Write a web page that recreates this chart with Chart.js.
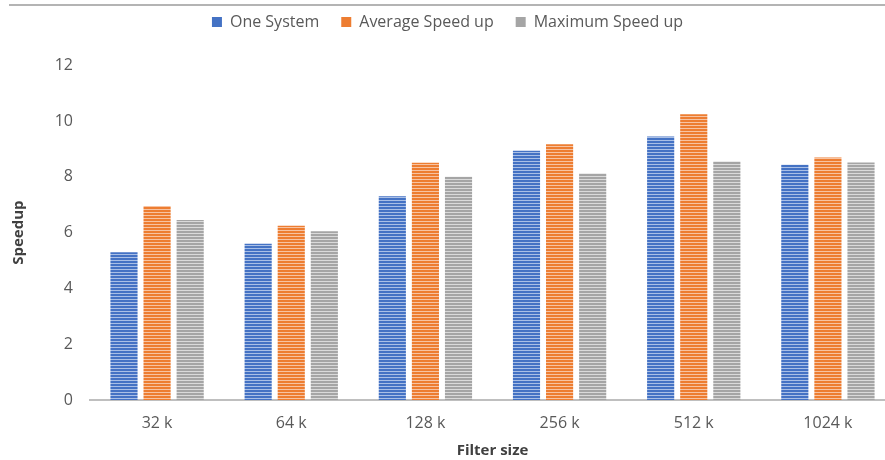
<!DOCTYPE html>
<html>
<head>
<meta charset="utf-8">
<script src="https://cdn.jsdelivr.net/npm/chart.js@4/dist/chart.umd.min.js"></script>
<style>
  html, body { margin: 0; padding: 0; overflow: hidden; background: #ffffff; width: 885px; height: 460px; }
  #c { position: absolute; left: 0; top: 0; }
</style>
</head>
<body>
<canvas id="c" width="895" height="460"></canvas>
<script>
const categories = ['32 k', '64 k', '128 k', '256 k', '512 k', '1024 k'];
const seriesNames = ['One System', 'Average Speed up', 'Maximum Speed up'];
const oneSystem = [5.3, 5.6, 7.3, 8.93, 9.44, 8.43];
const averageSpeedup = [6.95, 6.25, 8.5, 9.17, 10.24, 8.69];
const maximumSpeedup = [6.45, 6.05, 8.0, 8.12, 8.55, 8.51];
const yTickMin = 0, yTickMax = 12, yTickStep = 2;
const xTitle = 'Filter size';
const yTitle = 'Speedup';

const colors = ['#4472C4', '#ED7D31', '#A5A5A5'];
const stripeColors = ['#a9bfe6', '#f7c3a2', '#dadada'];

function stripes(base, light) {
  const p = document.createElement('canvas');
  p.width = 4; p.height = 3;
  const g = p.getContext('2d');
  g.fillStyle = base; g.fillRect(0, 0, 4, 3);
  g.fillStyle = light; g.fillRect(0, 2, 4, 1);
  return g.createPattern(p, 'repeat');
}

const FONT = "'Open Sans', 'Liberation Sans', sans-serif";
const TXT = '#595959';

const topLine = {
  id: 'topLine',
  beforeDraw(chart) {
    const ctx = chart.ctx;
    ctx.save();
    ctx.fillStyle = '#b4b4b4';
    ctx.fillRect(9, 4, chart.width - 9, 2);
    ctx.restore();
  }
};

const values = [oneSystem, averageSpeedup, maximumSpeedup];
new Chart(document.getElementById('c'), {
  type: 'bar',
  data: {
    labels: categories,
    datasets: seriesNames.map((n, i) => ({
      label: n,
      data: values[i],
      backgroundColor: stripes(colors[i], stripeColors[i]),
      borderWidth: 0,
      categoryPercentage: 0.74,
      barPercentage: 0.82
    }))
  },
  options: {
    responsive: false,
    animation: false,
    layout: { padding: { top: -8, left: 0, right: 0, bottom: 0 } },
    plugins: {
      tooltip: { enabled: false },
      title: { display: true, text: '', weight: 500, font: { size: 1 }, padding: { top: 24, bottom: 0 } },
      legend: {
        position: 'top',
        labels: {
          font: { family: FONT, size: 16 },
          color: TXT,
          boxWidth: 10,
          boxHeight: 10,
          padding: 22,
          generateLabels(chart) {
            return chart.data.datasets.map((d, i) => ({
              text: d.label, fillStyle: colors[i], strokeStyle: colors[i],
              lineWidth: 0, hidden: false, datasetIndex: i, fontColor: TXT
            }));
          }
        }
      }
    },
    scales: {
      x: {
        grid: { display: false, drawTicks: false },
        border: { display: true, color: '#bfbfbf', width: 2 },
        ticks: { font: { family: FONT, size: 16 }, color: TXT, padding: 14 },
        title: { display: true, text: xTitle, font: { family: FONT, size: 15, weight: 'bold' }, color: '#404040', padding: { top: 4, bottom: 0 } },
        afterFit(s) { s.height = 60; }
      },
      y: {
        min: yTickMin, max: yTickMax,
        grid: { display: false, drawTicks: false },
        border: { display: false },
        ticks: { stepSize: yTickStep, font: { family: FONT, size: 16 }, color: TXT, padding: 17 },
        title: { display: true, text: yTitle, font: { family: FONT, size: 15, weight: 'bold' }, color: '#404040', padding: { top: 10, bottom: 0 } },
        afterFit(s) { s.width = 90; }
      }
    }
  },
  plugins: [topLine]
});
</script>
</body>
</html>
